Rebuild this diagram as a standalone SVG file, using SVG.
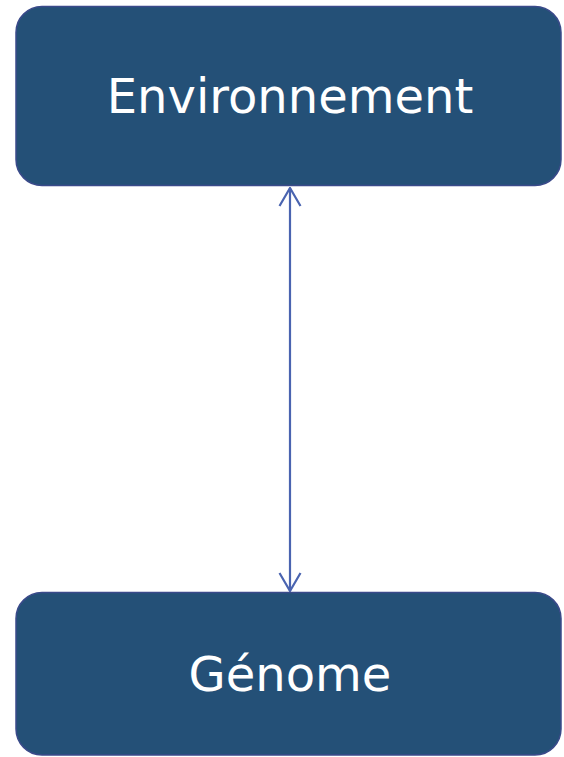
<svg xmlns="http://www.w3.org/2000/svg" width="564" height="757" viewBox="0 0 564 757">
<defs>
<style>
.node{fill:#245077;stroke:#3a4a8a;stroke-width:1.5}
.lbl{fill:#ffffff;font-family:"DejaVu Sans",sans-serif;font-size:48px;text-anchor:middle}
.edge{stroke:#4a64b0;stroke-width:2.2;fill:none}
</style>
<marker id="arr" viewBox="0 0 20 24" refX="19" refY="12" markerWidth="20" markerHeight="24" markerUnits="userSpaceOnUse" orient="auto-start-reverse">
<path d="M1,1.5 L19,12 L1,22.5" fill="none" stroke="#4a64b0" stroke-width="2.2"/>
</marker>
</defs>
<g id="connectors">
<line class="edge" x1="290" y1="188" x2="290" y2="591" marker-start="url(#arr)" marker-end="url(#arr)"/>
</g>
<g id="environnement">
<rect class="node" x="16" y="6.5" width="545" height="179" rx="26" ry="26"/>
<text class="lbl" x="290" y="113">Environnement</text>
</g>
<g id="genome">
<rect class="node" x="16" y="592.5" width="545" height="162.5" rx="26" ry="26"/>
<text class="lbl" x="290" y="691">Génome</text>
</g>
</svg>
